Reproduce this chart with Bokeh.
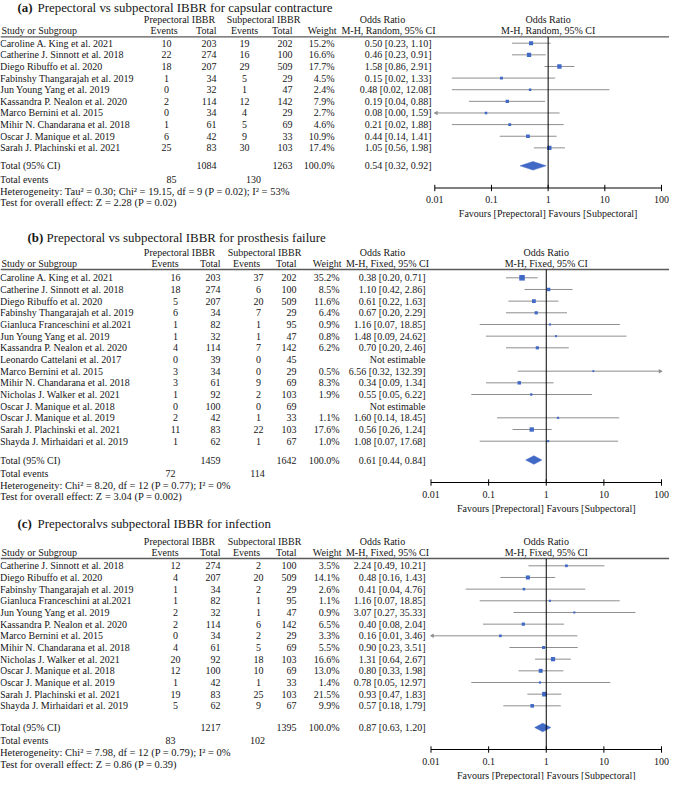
from bokeh.plotting import figure
from bokeh.models import Range1d, LogScale, ColumnDataSource
from bokeh.core.properties import value
from bokeh.embed import file_html
from bokeh.resources import INLINE

# ---------------- DATA ----------------
# (a) capsular contracture  (M-H, Random)
a_title = "Prepectoral vs subpectoral IBBR for capsular contracture"
a_method = "M-H, Random, 95% CI"
a_studies = ["Caroline A. King et al. 2021", "Catherine J. Sinnott et al. 2018",
             "Diego Ribuffo et al. 2020", "Fabinshy Thangarajah et al. 2019",
             "Jun Young Yang et al. 2019", "Kassandra P. Nealon et al. 2020",
             "Marco Bernini et al. 2015", "Mihir N. Chandarana et al. 2018",
             "Oscar J. Manique et al. 2019", "Sarah J. Plachinski et al. 2021"]
a_pre_events = [10, 22, 18, 1, 0, 2, 0, 1, 6, 25]
a_pre_total = [203, 274, 207, 34, 32, 114, 34, 61, 42, 83]
a_sub_events = [19, 16, 29, 5, 1, 12, 4, 5, 9, 30]
a_sub_total = [202, 100, 509, 29, 47, 142, 29, 69, 33, 103]
a_weight = [15.2, 16.6, 17.7, 4.5, 2.4, 7.9, 2.7, 4.6, 10.9, 17.4]
a_or = [0.50, 0.46, 1.58, 0.15, 0.48, 0.19, 0.08, 0.21, 0.44, 1.05]
a_lo = [0.23, 0.23, 0.86, 0.02, 0.02, 0.04, 0.00, 0.02, 0.14, 0.56]
a_hi = [1.10, 0.91, 2.91, 1.33, 12.08, 0.88, 1.59, 1.88, 1.41, 1.98]
a_totals = [1084, 1263]
a_total_events = [85, 130]
a_pooled = [0.54, 0.32, 0.92]
a_het = "Heterogeneity: Tau² = 0.30; Chi² = 19.15, df = 9 (P = 0.02); I² = 53%"
a_test = "Test for overall effect: Z = 2.28 (P = 0.02)"

# (b) prosthesis failure  (M-H, Fixed)
b_title = "Prepectoral vs subpectoral IBBR for prosthesis failure"
b_method = "M-H, Fixed, 95% CI"
b_studies = ["Caroline A. King et al. 2021", "Catherine J. Sinnott et al. 2018",
             "Diego Ribuffo et al. 2020", "Fabinshy Thangarajah et al. 2019",
             "Gianluca Franceschini et al.2021", "Jun Young Yang et al. 2019",
             "Kassandra P. Nealon et al. 2020", "Leonardo Cattelani et al. 2017",
             "Marco Bernini et al. 2015", "Mihir N. Chandarana et al. 2018",
             "Nicholas J. Walker et al. 2021", "Oscar J. Manique et al. 2018",
             "Oscar J. Manique et al. 2019", "Sarah J. Plachinski et al. 2021",
             "Shayda J. Mirhaidari et al. 2019"]
b_pre_events = [16, 18, 5, 6, 1, 1, 4, 0, 3, 3, 1, 0, 2, 11, 1]
b_pre_total = [203, 274, 207, 34, 82, 32, 114, 39, 34, 61, 92, 100, 42, 83, 62]
b_sub_events = [37, 6, 20, 7, 1, 1, 7, 0, 0, 9, 2, 0, 1, 22, 1]
b_sub_total = [202, 100, 509, 29, 95, 47, 142, 45, 29, 69, 103, 69, 33, 103, 67]
b_weight = [35.2, 8.5, 11.6, 6.4, 0.9, 0.8, 6.2, None, 0.5, 8.3, 1.9, None, 1.1, 17.6, 1.0]
b_or = [0.38, 1.10, 0.61, 0.67, 1.16, 1.48, 0.70, None, 6.56, 0.34, 0.55, None, 1.60, 0.56, 1.08]
b_lo = [0.20, 0.42, 0.22, 0.20, 0.07, 0.09, 0.20, None, 0.32, 0.09, 0.05, None, 0.14, 0.26, 0.07]
b_hi = [0.71, 2.86, 1.63, 2.29, 18.85, 24.62, 2.46, None, 132.39, 1.34, 6.22, None, 18.45, 1.24, 17.68]
b_totals = [1459, 1642]
b_total_events = [72, 114]
b_pooled = [0.61, 0.44, 0.84]
b_het = "Heterogeneity: Chi² = 8.20, df = 12 (P = 0.77); I² = 0%"
b_test = "Test for overall effect: Z = 3.04 (P = 0.002)"

# (c) infection  (M-H, Fixed)
c_title = "Prepectoralvs subpectoral IBBR for infection"
c_method = "M-H, Fixed, 95% CI"
c_studies = ["Catherine J. Sinnott et al. 2018", "Diego Ribuffo et al. 2020",
             "Fabinshy Thangarajah et al. 2019", "Gianluca Franceschini at al.2021",
             "Jun Young Yang et al. 2019", "Kassandra P. Nealon et al. 2020",
             "Marco Bernini et al. 2015", "Mihir N. Chandarana et al. 2018",
             "Nicholas J. Walker et al. 2021", "Oscar J. Manique et al. 2018",
             "Oscar J. Manique et al. 2019", "Sarah J. Plachinski et al. 2021",
             "Shayda J. Mirhaidari et al. 2019"]
c_pre_events = [12, 4, 1, 1, 2, 2, 0, 4, 20, 12, 1, 19, 5]
c_pre_total = [274, 207, 34, 82, 32, 114, 34, 61, 92, 100, 42, 83, 62]
c_sub_events = [2, 20, 2, 1, 1, 6, 2, 5, 18, 10, 1, 25, 9]
c_sub_total = [100, 509, 29, 95, 47, 142, 29, 69, 103, 69, 33, 103, 67]
c_weight = [3.5, 14.1, 2.6, 1.1, 0.9, 6.5, 3.3, 5.5, 16.6, 13.0, 1.4, 21.5, 9.9]
c_or = [2.24, 0.48, 0.41, 1.16, 3.07, 0.40, 0.16, 0.90, 1.31, 0.80, 0.78, 0.93, 0.57]
c_lo = [0.49, 0.16, 0.04, 0.07, 0.27, 0.08, 0.01, 0.23, 0.64, 0.33, 0.05, 0.47, 0.18]
c_hi = [10.21, 1.43, 4.76, 18.85, 35.33, 2.04, 3.46, 3.51, 2.67, 1.98, 12.97, 1.83, 1.79]
c_totals = [1217, 1395]
c_total_events = [83, 102]
c_pooled = [0.87, 0.63, 1.20]
c_het = "Heterogeneity: Chi² = 7.98, df = 12 (P = 0.79); I² = 0%"
c_test = "Test for overall effect: Z = 0.86 (P = 0.39)"

axis_ticks = [0.01, 0.1, 1, 10, 100]
axis_tick_labels = ["0.01", "0.1", "1", "10", "100"]
favours_label = "Favours [Prepectoral] Favours [Subpectoral]"

# ---------------- STYLE / LAYOUT ----------------
FONT = value("Liberation Serif")
TXT = "#161616"
BLUE = "#4169c6"
CI_GREY = "#8e8e8e"
RULE = "#5a5a5a"
BODY = "10px"
NOTE = "10.5px"
TITLE = "12.9px"
AXIS_TXT = "10px"

X0, X1 = 8, 677
Y0, Y1 = 8, 788

p = figure(width=X1 - X0, height=Y1 - Y0, output_backend="svg", toolbar_location=None,
           x_range=Range1d(X0, X1), y_range=Range1d(Y1, Y0),
           x_axis_location=None, y_axis_location=None, min_border=0,
           outline_line_color=None, background_fill_color="white",
           border_fill_color="white")
p.grid.visible = False


def log_range(px_lo, px_hi):
    dec = (px_hi - px_lo) / 4.0
    return Range1d(10 ** (-2 - (px_lo - X0) / dec), 10 ** (2 + (X1 - px_hi) / dec))


p.extra_x_ranges = {"fa": log_range(442.3, 669.0), "fbc": log_range(438.5, 669.0)}
p.extra_x_scales = {"fa": LogScale(), "fbc": LogScale()}


def text(xs, ys, ts, align="left", size=BODY, style="normal", rng=None):
    src = ColumnDataSource(dict(x=list(xs), y=list(ys), t=list(ts)))
    kw = dict(x_range_name=rng) if rng else {}
    p.text(x="x", y="y", text="t", source=src, text_font=FONT, text_font_size=size,
           text_font_style=style, text_align=align, text_baseline="middle",
           text_color=TXT, **kw)


def fmt_or(o, lo, hi):
    if o is None:
        return "Not estimable"
    return f"{o:.2f} [{lo:.2f}, {hi:.2f}]"


def panel(tag, title, method, studies, pe, pt, se, st, wt, orv, lo, hi, totals,
          tev, pooled, het, test, L):
    dy = L["dy"]
    rng = L["rng"]
    C = L["cols"]
    line_y = L["line"] + dy
    n = len(studies)
    ys = [L["row0"] + dy + i * L["step"] for i in range(n)]
    tot_y = L["total"] + dy
    ax_y = L["axis"] + dy

    # title
    text([L["tag_x"]], [L["title"] + dy], [tag], size=TITLE, style="bold")
    text([L["title_x"]], [L["title"] + dy], [title], size=TITLE)

    # header rows
    h1, h2 = line_y - 17.5, line_y - 6.3
    text([C["pre_hdr"], C["sub_hdr"], C["or_hdr1"]], [h1, h1, h1],
         ["Prepectoral IBBR", "Subpectoral IBBR", "Odds Ratio"], align="center")
    text([C["ev_hdr"], C["sev_hdr"], C["or_hdr2"]], [h2, h2, h2],
         ["Events", "Events", method], align="center")
    text([C["pt"], C["st"], C["w_hdr"]], [h2, h2, h2], ["Total", "Total", "Weight"], align="right")
    text([9], [h2], ["Study or Subgroup"])
    text([1, 1], [h1, h2], ["Odds Ratio", method], align="center", rng=rng)
    p.segment(x0=[X0], y0=[line_y], x1=[X1], y1=[line_y], line_color=RULE, line_width=1.3)

    # study rows
    text([7.5] * n, ys, studies)
    text([C["pe"]] * n, ys, [str(v) for v in pe], align="center")
    text([C["pt"]] * n, ys, [str(v) for v in pt], align="right")
    text([C["se"]] * n, ys, [str(v) for v in se], align="center")
    text([C["st"]] * n, ys, [str(v) for v in st], align="right")
    text([C["w"]] * n, ys, ["" if w is None else f"{w:.1f}%" for w in wt], align="right")
    text([C["orr"]] * n, ys, [fmt_or(o, a, b) for o, a, b in zip(orv, lo, hi)], align="right")

    # totals
    text([7.5, 7.5], [tot_y, tot_y + 13.2], ["Total (95% CI)", "Total events"])
    text([7.5, 7.5], [tot_y + 25.4, tot_y + 36.8], [het, test], size=NOTE)
    text([C["pt"], C["st"], C["w"]], [tot_y] * 3,
         [str(totals[0]), str(totals[1]), "100.0%"], align="right")
    text([C["orr"]], [tot_y], [fmt_or(*pooled)], align="right")
    text([C["te_pe"], C["te_se"]], [tot_y + 13.2] * 2, [str(v) for v in tev], align="center")

    # forest: CIs and squares
    cx0, cx1, cy, mx, my, ms = [], [], [], [], [], []
    lx, ly, rx, ry = [], [], [], []
    for o, a, b, w, y in zip(orv, lo, hi, wt, ys):
        if o is None:
            continue
        cx0.append(max(a, axis_ticks[0]))
        cx1.append(min(b, axis_ticks[-1]))
        cy.append(y)
        mx.append(o)
        my.append(y)
        ms.append(1.4 + 0.7 * w ** 0.5)
        if a <= axis_ticks[0]:
            lx.append(axis_ticks[0] * 1.06)
            ly.append(y)
        if b >= axis_ticks[-1]:
            rx.append(axis_ticks[-1] / 1.06)
            ry.append(y)
    p.segment(x0=cx0, y0=cy, x1=cx1, y1=cy, line_color=CI_GREY, line_width=1,
              x_range_name=rng)
    p.scatter(x=mx, y=my, size=ms, marker="square", fill_color=BLUE, line_color=None,
              x_range_name=rng)
    if lx:
        p.scatter(x=lx, y=ly, size=4.5, marker="triangle", angle=1.5708,
                  fill_color=CI_GREY, line_color=None, x_range_name=rng)
    if rx:
        p.scatter(x=rx, y=ry, size=4.5, marker="triangle", angle=-1.5708,
                  fill_color=CI_GREY, line_color=None, x_range_name=rng)

    # pooled diamond
    est, plo, phi = pooled
    p.patch(x=[plo, est, phi, est], y=[tot_y, tot_y - 4.3, tot_y, tot_y + 4.3],
            fill_color=BLUE, line_color=BLUE, line_width=0.5, x_range_name=rng)

    # no-effect line
    p.segment(x0=[1], y0=[line_y], x1=[1], y1=[ax_y], line_color="black", line_width=1,
              x_range_name=rng)

    # log axis
    p.segment(x0=[axis_ticks[0]], y0=[ax_y], x1=[axis_ticks[-1]], y1=[ax_y],
              line_color="black", line_width=1, x_range_name=rng)
    p.segment(x0=axis_ticks, y0=[ax_y - 3.2] * 5, x1=axis_ticks, y1=[ax_y + 3.2] * 5,
              line_color="black", line_width=1, x_range_name=rng)
    text(axis_ticks, [ax_y + 11.5] * 5, axis_tick_labels, align="center", size=AXIS_TXT, rng=rng)
    text([1], [ax_y + 25.5], [favours_label], align="center", size=AXIS_TXT, rng=rng)


cols_a = dict(pre_hdr=187, sub_hdr=271, or_hdr1=390, or_hdr2=396,
              ev_hdr=171.5, sev_hdr=252, pe=174, pt=224, se=252, st=300,
              w=342, w_hdr=344, orr=439, te_pe=179, te_se=261)
cols_bc = dict(pre_hdr=187, sub_hdr=272, or_hdr1=390, or_hdr2=395,
               ev_hdr=172.5, sev_hdr=254, pe=183, pt=228, se=266, st=304,
               w=347, w_hdr=349, orr=433, te_pe=178, te_se=265)

LAY_A = dict(dy=0, title=15.5, tag_x=25, title_x=45, line=44.3, row0=50.7, step=11.63,
             total=173.3, axis=195.5, rng="fa", cols=cols_a)
LAY_B = dict(dy=-3, title=248, tag_x=35, title_x=54, line=280, row0=288.3, step=11.67,
             total=470.5, axis=493, rng="fbc", cols=cols_bc)
LAY_C = dict(dy=-9, title=540, tag_x=25, title_x=45, line=575, row0=582.3, step=11.67,
             total=744, axis=766, rng="fbc", cols=cols_bc)

panel("(a)", a_title, a_method, a_studies, a_pre_events, a_pre_total, a_sub_events,
      a_sub_total, a_weight, a_or, a_lo, a_hi, a_totals, a_total_events, a_pooled,
      a_het, a_test, LAY_A)
panel("(b)", b_title, b_method, b_studies, b_pre_events, b_pre_total, b_sub_events,
      b_sub_total, b_weight, b_or, b_lo, b_hi, b_totals, b_total_events, b_pooled,
      b_het, b_test, LAY_B)
panel("(c)", c_title, c_method, c_studies, c_pre_events, c_pre_total, c_sub_events,
      c_sub_total, c_weight, c_or, c_lo, c_hi, c_totals, c_total_events, c_pooled,
      c_het, c_test, LAY_C)

open("out.html", "w").write(file_html(p, INLINE))
